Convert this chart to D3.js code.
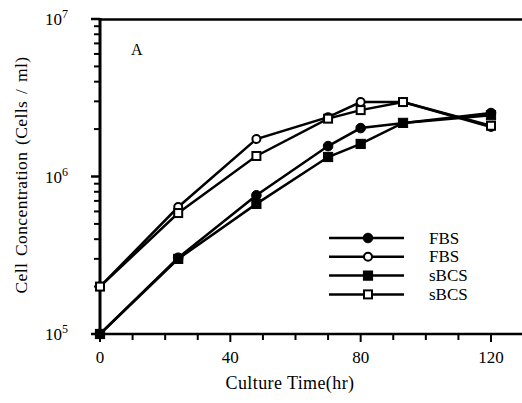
<!DOCTYPE html>
<html>
<head>
<meta charset="utf-8">
<script src="https://cdn.jsdelivr.net/npm/d3@7"></script>
<style>
  body { margin: 0; background: #fff; }
  text { font-family: "Liberation Serif", "DejaVu Serif", serif; fill: #000; }
</style>
</head>
<body>
<div class="canvas"></div>
<script>
// data
const times = [0, 24, 48, 70, 80, 93, 120];
const fbsFilled = [1e5, 3.05e5, 7.6e5, 1.56e6, 2.03e6, null, 2.53e6];
const fbsOpen = [2.0e5, 6.4e5, 1.73e6, 2.38e6, 2.97e6, 2.97e6, 2.06e6];
const sbcsFilled = [1e5, 3.0e5, 6.7e5, 1.33e6, 1.61e6, 2.19e6, 2.45e6];
const sbcsOpen = [2.0e5, 5.86e5, 1.35e6, 2.33e6, 2.64e6, 2.97e6, 2.1e6];
const seriesNames = ['FBS', 'FBS', 'sBCS', 'sBCS'];
const xTickLabels = [0, 40, 80, 120];
const yTickExps = [5, 6, 7];

const series = [
  {name: seriesNames[0], values: fbsFilled, shape: 'circle', filled: true},
  {name: seriesNames[1], values: fbsOpen, shape: 'circle', filled: false},
  {name: seriesNames[2], values: sbcsFilled, shape: 'square', filled: true},
  {name: seriesNames[3], values: sbcsOpen, shape: 'square', filled: false}
];

const width = 522, height = 403;
const svg = d3.select('.canvas')
  .append('svg')
  .attr('width', width)
  .attr('height', height);

// scales
const x = d3.scaleLinear().domain([0, 120]).range([100, 491]);
const y = d3.scaleLog().domain([1e5, 1e7]).range([334, 19]);

// top border
svg.append('line')
  .attr('x1', 100).attr('x2', width)
  .attr('y1', 19.5).attr('y2', 19.5)
  .attr('stroke', '#000').attr('stroke-width', 2.5);

// x axis
const xAxisGroup = svg.append('g').attr('transform', `translate(0,${y(1e5)})`);
xAxisGroup.append('line')
  .attr('x1', 97).attr('x2', width)
  .attr('stroke', '#000').attr('stroke-width', 2.5);
xAxisGroup.selectAll('.xt')
  .data(d3.range(0, 121, 10))
  .enter().append('line')
  .attr('x1', d => x(d)).attr('x2', d => x(d))
  .attr('y1', 0).attr('y2', d => d % 40 === 0 ? 8 : 6)
  .attr('stroke', '#000').attr('stroke-width', 2);
xAxisGroup.selectAll('.xl')
  .data(xTickLabels)
  .enter().append('text')
  .attr('x', d => x(d)).attr('y', 29)
  .attr('text-anchor', 'middle')
  .style('font-size', '17px')
  .text(d => d);

// y axis
const yAxisGroup = svg.append('g');
yAxisGroup.append('line')
  .attr('x1', 100).attr('x2', 100)
  .attr('y1', 18).attr('y2', 336)
  .attr('stroke', '#000').attr('stroke-width', 3);
const minor = [];
[1e5, 1e6].forEach(b => { for (let k = 2; k <= 9; k++) minor.push(b * k); });
yAxisGroup.selectAll('.ym')
  .data(minor)
  .enter().append('line')
  .attr('x1', 94).attr('x2', 100)
  .attr('y1', d => y(d)).attr('y2', d => y(d))
  .attr('stroke', '#000').attr('stroke-width', 2);
yAxisGroup.selectAll('.yM')
  .data(yTickExps)
  .enter().append('line')
  .attr('x1', 91).attr('x2', 100)
  .attr('y1', d => y(Math.pow(10, d))).attr('y2', d => y(Math.pow(10, d)))
  .attr('stroke', '#000').attr('stroke-width', 2.5);
const yl = yAxisGroup.selectAll('.yl')
  .data(yTickExps)
  .enter().append('text')
  .attr('x', 45).attr('y', d => y(Math.pow(10, d)) + 6)
  .style('font-size', '17px');
yl.append('tspan').text('10');
yl.append('tspan').attr('dy', -7).style('font-size', '12px').text(d => d);

// axis titles
svg.append('text')
  .attr('transform', `translate(27,${175}) rotate(-90)`)
  .attr('text-anchor', 'middle')
  .style('font-size', '17.5px')
  .style('letter-spacing', '0.4px')
  .style('word-spacing', '2px')
  .text('Cell Concentration (Cells / ml)');
svg.append('text')
  .attr('x', 290).attr('y', 389)
  .attr('text-anchor', 'middle')
  .style('font-size', '18px')
  .style('letter-spacing', '0.4px')
  .text('Culture Time(hr)');

svg.append('text')
  .attr('x', 131).attr('y', 55)
  .style('font-size', '16px')
  .text('A');

// markers
function drawMarker(g, s, cx, cy) {
  if (s.shape === 'circle') {
    g.append('circle')
      .attr('cx', cx).attr('cy', cy)
      .attr('r', s.filled ? 4.8 : 4)
      .attr('fill', s.filled ? '#000' : '#fff')
      .attr('stroke', '#000').attr('stroke-width', s.filled ? 1 : 2);
  } else {
    const h = s.filled ? 4.6 : 4;
    g.append('rect')
      .attr('x', cx - h).attr('y', cy - h)
      .attr('width', 2 * h).attr('height', 2 * h)
      .attr('fill', s.filled ? '#000' : '#fff')
      .attr('stroke', '#000').attr('stroke-width', s.filled ? 1 : 2);
  }
}

const line = d3.line()
  .x(d => x(d.t))
  .y(d => y(d.v));

const plot = svg.append('g');
series.forEach(s => {
  const pts = times.map((t, i) => ({t: t, v: s.values[i]})).filter(d => d.v != null);
  plot.append('path')
    .datum(pts)
    .attr('d', line)
    .attr('fill', 'none')
    .attr('stroke', '#000')
    .attr('stroke-width', 2.5);
});
series.forEach(s => {
  times.forEach((t, i) => {
    if (s.values[i] != null) drawMarker(plot, s, x(t), y(s.values[i]));
  });
});

// legend
const legend = svg.append('g');
series.forEach((s, i) => {
  const ly = 238 + i * 18.8;
  legend.append('line')
    .attr('x1', 329).attr('x2', 404)
    .attr('y1', ly).attr('y2', ly)
    .attr('stroke', '#000').attr('stroke-width', 2.5);
  drawMarker(legend, s, 368, ly);
  legend.append('text')
    .attr('x', 429).attr('y', ly + 5.5)
    .style('font-size', '17px')
    .text(s.name);
});
</script>
</body>
</html>
